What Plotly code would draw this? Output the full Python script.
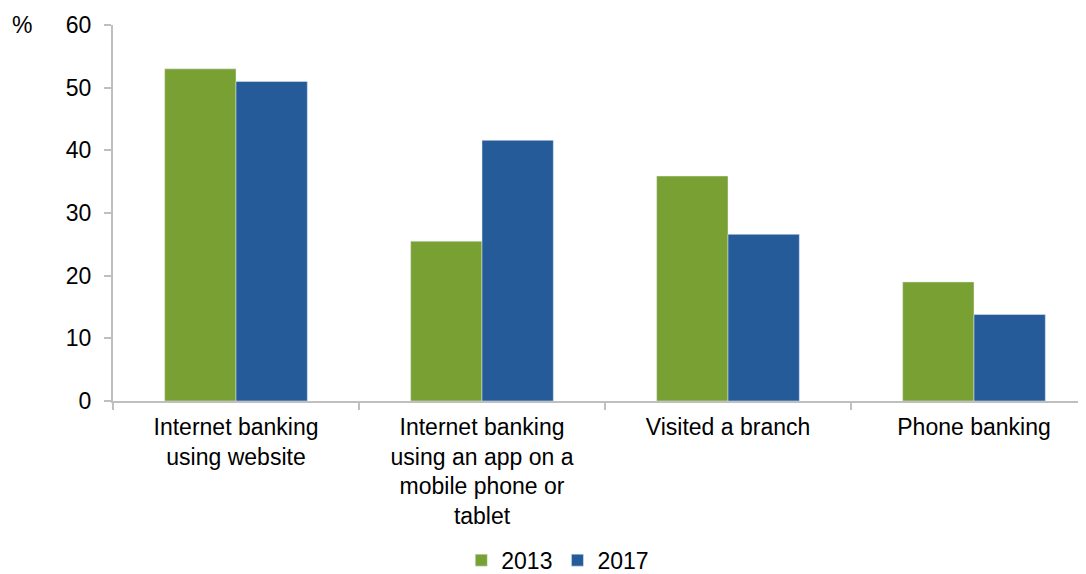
import plotly.graph_objects as go

# Datos
categories = [
    "Internet banking<br>using website",
    "Internet banking<br>using an app on a<br>mobile phone or<br>tablet",
    "Visited a branch",
    "Phone banking",
]
values_2013 = [53.0, 25.5, 35.9, 19.0]
values_2017 = [51.0, 41.6, 26.6, 13.8]

fig = go.Figure()
fig.add_trace(go.Bar(x=categories, y=values_2013, name="2013", marker_color="#78A032"))
fig.add_trace(go.Bar(x=categories, y=values_2017, name="2017", marker_color="#265B9A"))

# la página añade 8px de margen al body, se compensa aquí;
# el gráfico original está recortado a la derecha, por eso el ancho es mayor
fig.update_layout(
    width=1100, height=574,
    margin=dict(l=105, r=11, t=17, b=181, autoexpand=False),
    paper_bgcolor="white", plot_bgcolor="white",
    font=dict(family="Liberation Sans, Arial, sans-serif", size=23, color="#000000"),
    barmode="group", bargap=0.42, bargroupgap=0,
    showlegend=True,
    legend=dict(orientation="h", x=0.452, xanchor="center", yref="container", y=0.038, yanchor="middle",
                font=dict(size=23), itemwidth=30, traceorder="normal"),
)
fig.update_xaxes(
    showline=True, linecolor="#bfbfbf", linewidth=2,
    ticks="outside", tickson="boundaries", ticklen=7, tickcolor="#bfbfbf", tickwidth=2,
    ticklabelstandoff=4, showgrid=False,
)
fig.update_yaxes(
    range=[0, 60], dtick=10, showgrid=False, zeroline=False,
    showline=True, linecolor="#bfbfbf", linewidth=2,
    ticks="outside", ticklen=7, tickcolor="#bfbfbf", tickwidth=2,
    ticklabelstandoff=8,
)
fig.add_annotation(text="%", xref="paper", yref="paper", x=-0.092, y=1.0,
                   xanchor="center", yanchor="middle", showarrow=False, font=dict(size=23))

fig.write_html("out.html")
